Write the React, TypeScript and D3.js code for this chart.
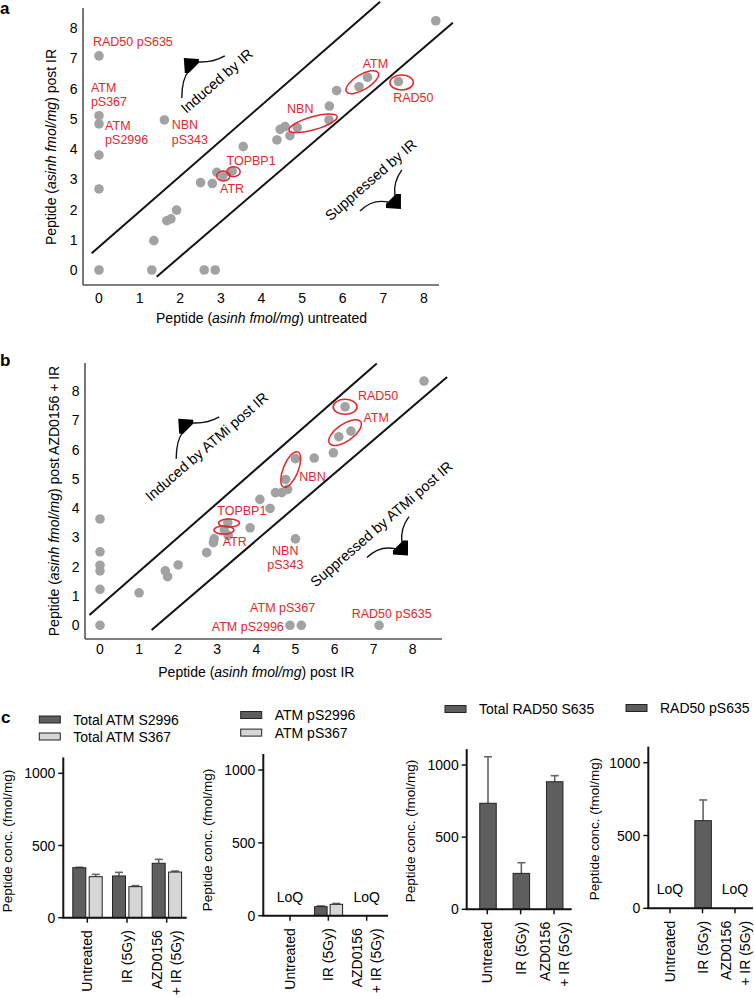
import React from 'react';
import * as d3 from 'd3';

// ---------- Panel a: untreated (x) vs post IR (y) ----------
const aX = [0, 0, 0, 0, 0, 0, 1.30, 1.35, 1.67, 1.77, 1.91, 1.61, 2.59, 2.86, 2.50, 2.79, 2.90, 3.05, 3.28, 3.55, 4.38, 4.46, 4.58, 4.70, 4.88, 5.66, 5.67, 5.85, 6.40, 6.61, 7.37, 8.29];
const aY = [7.08, 5.10, 4.83, 3.80, 2.68, 0, 0, 0.97, 1.63, 1.69, 1.98, 4.96, 0, 0, 2.89, 2.86, 3.23, 3.12, 3.27, 4.08, 4.30, 4.65, 4.74, 4.44, 4.71, 4.96, 5.42, 5.93, 6.06, 6.37, 6.23, 8.24];

// ---------- Panel b: post IR (x) vs post AZD0156 + IR (y) ----------
const bX = [0, 0, 0, 0, 0, 0, 1.0, 1.67, 1.73, 2.0, 2.73, 2.92, 2.90, 3.27, 3.18, 3.28, 3.84, 4.09, 4.35, 4.49, 4.65, 4.80, 4.75, 5.0, 5.48, 5.97, 6.11, 6.42, 6.27, 8.29, 5.0, 4.86, 5.15, 7.14];
const bY = [3.63, 2.51, 2.05, 1.86, 1.23, 0, 1.11, 1.86, 1.66, 2.06, 2.48, 2.95, 2.82, 3.50, 3.25, 3.07, 3.33, 4.30, 3.99, 4.53, 4.53, 4.64, 4.98, 5.69, 5.71, 5.89, 6.44, 6.63, 7.46, 8.34, 2.95, 0, 0, 0];

const scatterTicks = [0, 1, 2, 3, 4, 5, 6, 7, 8];

// threshold lines (data coordinates) [x1, y1, x2, y2]
const aLines = [[-0.18, 0.55, 6.92, 8.87], [1.42, -0.22, 8.71, 8.17]];
const bLines = [[-0.27, 0.35, 7.08, 8.94], [1.32, -0.16, 8.88, 8.48]];

// red labels: [text lines, x, y, anchor]
const aLabels: [string[], number, number, string][] = [
  [["RAD50 pS635"], -0.15, 7.54, 'start'],
  [["ATM", "pS367"], -0.2, 6.03, 'start'],
  [["ATM", "pS2996"], 0.15, 4.77, 'start'],
  [["NBN", "pS343"], 1.79, 4.79, 'start'],
  [["TOPBP1"], 3.14, 3.60, 'start'],
  [["ATR"], 2.98, 2.68, 'start'],
  [["NBN"], 4.63, 5.32, 'start'],
  [["ATM"], 6.49, 6.81, 'start'],
  [["RAD50"], 7.24, 5.70, 'start'],
];
const bLabels: [string[], number, number, string][] = [
  [["RAD50"], 6.60, 7.84, 'start'],
  [["ATM"], 6.74, 7.07, 'start'],
  [["NBN"], 5.10, 5.07, 'start'],
  [["TOPBP1"], 3.0, 3.90, 'start'],
  [["ATR"], 3.14, 2.83, 'start'],
  [["NBN", "pS343"], 4.74, 2.54, 'middle'],
  [["ATM pS367"], 3.84, 0.58, 'start'],
  [["ATM pS2996"], 2.86, -0.05, 'start'],
  [["RAD50 pS635"], 6.44, 0.38, 'start'],
];
// ellipses: [cx, cy, rx, ry, rotation]
const aEllipses = [
  [3.06, 3.11, 6.7, 5, 0],
  [3.31, 3.25, 6.7, 5, 0],
  [5.27, 4.85, 25, 6.5, -16],
  [6.48, 6.21, 18.5, 7.5, -31],
  [7.45, 6.20, 11.7, 7.5, 0],
];
const bEllipses = [
  [6.27, 7.46, 12, 7.5, 0],
  [6.27, 6.58, 19, 8.5, -35],
  [4.88, 5.32, 7.5, 19, 22],
  [3.30, 3.49, 10.5, 4, 0],
  [3.17, 3.25, 10, 4, 0],
];

// ---------- Panel c: bar charts ----------
const conditions = ["Untreated", "IR (5Gy)", "AZD0156\n+ IR (5Gy)"];
const c1Names = ["Total ATM S2996", "Total ATM S367"];
const c1Dark = [346, 289, 377];
const c1DarkErr = [3, 25, 27];
const c1Light = [284, 215, 316];
const c1LightErr = [16, 7, 7];
const c2Names = ["ATM pS2996", "ATM pS367"];
const c2Dark = [null, 62, null];
const c2DarkErr = [0, 5, 0];
const c2Light = [null, 78, null];
const c2LightErr = [0, 6, 0];
const c3Names = ["Total RAD50 S635"];
const c3Vals = [735, 249, 884];
const c3Err = [322, 74, 42];
const c4Names = ["RAD50 pS635"];
const c4Vals = [null, 602, null];
const c4Err = [0, 142, 0];
const barTicks = [0, 500, 1000];

const RED = '#e5272c';
const PT = '#a2a2a2';
const DARK = '#5e5e5e';
const LIGHT = '#d6d6d6';
const FONT = '"Liberation Sans", Arial, Helvetica, sans-serif';

function Arrow({ x, y, kind }: { x: number; y: number; kind: 'up' | 'down' }) {
  if (kind === 'up') {
    return (
      <g transform={`translate(${x},${y})`}>
        <path d="M34,-9 Q22,-2 6,-3" fill="none" stroke="#111" strokeWidth={1.4} />
        <path d="M-9,33 Q-9,14 -2,6" fill="none" stroke="#111" strokeWidth={1.4} />
        <path d="M-7,-7 L8,-6 L8,-2 L-2,8 L-6,8 Z" fill="#000" />
      </g>
    );
  }
  return (
    <g transform={`translate(${x},${y})`}>
      <path d="M8,-32 Q-1,-20 1,-6" fill="none" stroke="#111" strokeWidth={1.4} />
      <path d="M-34,9 Q-22,-3 -6,0" fill="none" stroke="#111" strokeWidth={1.4} />
      <path d="M7,-8 L7,7 L-8,6 L-8,2 L2,-8 Z" fill="#000" />
    </g>
  );
}

function Scatter(props: any) {
  const { xs, ys, xRange, yRange, axisX, axisY, axisTop, axisRight, lines, labels, ellipses, yTickX, xTickY,
    xTitle, xTitleY, yTitle, yTitleX, yTitleY, upText, upPos, upArrow, downText, downPos, downArrow } = props;
  const x = d3.scaleLinear().domain([0, 8]).range(xRange);
  const y = d3.scaleLinear().domain([0, 8]).range(yRange);
  const ang = -41;
  return (
    <g>
      <line x1={axisX} x2={axisX} y1={axisTop} y2={axisY} stroke="#555" strokeWidth={1.6} />
      <line x1={axisX} x2={axisRight} y1={axisY} y2={axisY} stroke="#555" strokeWidth={1.6} />
      {scatterTicks.map(t => (
        <text key={'y' + t} x={yTickX} y={y(t)} textAnchor="end" dominantBaseline="central" fontSize={14}>{t}</text>
      ))}
      {scatterTicks.map(t => (
        <text key={'x' + t} x={x(t)} y={xTickY} textAnchor="middle" dominantBaseline="central" fontSize={14}>{t}</text>
      ))}
      <text x={(xRange[0] + xRange[1]) / 2 + 0} y={xTitleY} textAnchor="middle" dominantBaseline="central" fontSize={14}>
        Peptide (<tspan fontStyle="italic">asinh fmol/mg</tspan>) {xTitle}
      </text>
      <text transform={`translate(${yTitleX},${yTitleY}) rotate(-90)`} textAnchor="middle" dominantBaseline="central" fontSize={14}>
        Peptide (<tspan fontStyle="italic">asinh fmol/mg</tspan>) {yTitle}
      </text>
      {lines.map((l: number[], i: number) => (
        <line key={i} x1={x(l[0])} y1={y(l[1])} x2={x(l[2])} y2={y(l[3])} stroke="#111" strokeWidth={2} />
      ))}
      {xs.map((v: number, i: number) => (
        <circle key={i} cx={x(v)} cy={y(ys[i])} r={4.8} fill={PT} />
      ))}
      {ellipses.map((e: number[], i: number) => (
        <ellipse key={i} transform={`translate(${x(e[0])},${y(e[1])}) rotate(${e[4]})`} rx={e[2]} ry={e[3]} fill="none" stroke={RED} strokeWidth={1.5} />
      ))}
      {labels.map((l: any, i: number) => (
        <g key={i}>
          {l[0].map((s: string, j: number) => (
            <text key={j} x={x(l[1])} y={y(l[2]) + j * 14.5} textAnchor={l[3]} dominantBaseline="central" fontSize={12.5} fill={RED}>{s}</text>
          ))}
        </g>
      ))}
      <text transform={`translate(${x(upPos[0])},${y(upPos[1])}) rotate(${ang})`} textAnchor="middle" dominantBaseline="central" fontSize={14.5}>{upText}</text>
      <text transform={`translate(${x(downPos[0])},${y(downPos[1])}) rotate(${ang})`} textAnchor="middle" dominantBaseline="central" fontSize={14.5}>{downText}</text>
      <Arrow x={x(upArrow[0])} y={y(upArrow[1])} kind="up" />
      <Arrow x={x(downArrow[0])} y={y(downArrow[1])} kind="down" />
    </g>
  );
}

function BarChart(props: any) {
  const { axisX, axisEnd, y0, y1000, catRange, barW, series, legend, titleX, titleY, loq } = props;
  const y = d3.scaleLinear().domain([0, 1000]).range([y0, y1000]);
  const x = d3.scalePoint<string>().domain(conditions).range(catRange);
  const top = y(1110);
  return (
    <g>
      {series.map((s: any, si: number) => s.vals.map((v: number | null, i: number) => {
        if (v == null) return null;
        const cx = (x(conditions[i]) as number) + s.off;
        const e = s.err[i];
        return (
          <g key={si + '-' + i}>
            {e > 0 && <line x1={cx} x2={cx} y1={y(v)} y2={y(v + e)} stroke="#666" strokeWidth={1.6} />}
            {e > 0 && <line x1={cx - 4} x2={cx + 4} y1={y(v + e)} y2={y(v + e)} stroke="#666" strokeWidth={1.6} />}
            <rect x={cx - barW / 2} y={y(v)} width={barW} height={y(0) - y(v)} fill={s.color} stroke="#222" strokeWidth={1} />
          </g>
        );
      }))}
      <line x1={axisX} x2={axisX} y1={top} y2={y0} stroke="#111" strokeWidth={2} />
      <line x1={axisX - 1} x2={axisEnd} y1={y0} y2={y0} stroke="#111" strokeWidth={2} />
      {barTicks.map(t => (
        <g key={t}>
          <line x1={axisX - 5} x2={axisX} y1={y(t)} y2={y(t)} stroke="#111" strokeWidth={1.5} />
          <text x={axisX - 8} y={y(t)} textAnchor="end" dominantBaseline="central" fontSize={14}>{t}</text>
        </g>
      ))}
      {conditions.map(c => {
        const cx = x(c) as number;
        const parts = c.split('\n');
        return (
          <g key={c}>
            <line x1={cx} x2={cx} y1={y0} y2={y0 + 5} stroke="#111" strokeWidth={1.5} />
            {parts.map((p, j) => (
              <text key={j} transform={`translate(${cx + (parts.length > 1 ? (j - 0.5) * 19 : 0)},${y0 + 12.5}) rotate(-90)`} textAnchor="end" dominantBaseline="central" fontSize={14}>{p}</text>
            ))}
          </g>
        );
      })}
      <text transform={`translate(${titleX},${titleY}) rotate(-90)`} textAnchor="middle" dominantBaseline="central" fontSize={13.5}>Peptide conc. (fmol/mg)</text>
      {legend.map((l: any, i: number) => (
        <g key={i}>
          <rect x={l.x} y={l.y - 3.5} width={21} height={7} fill={l.color} stroke="#222" strokeWidth={1} />
          <text x={l.x + 34} y={l.y} dominantBaseline="central" fontSize={14}>{l.name}</text>
        </g>
      ))}
      {loq.map((c: string) => (
        <text key={c} x={x(c)} y={y0 - 19} textAnchor="middle" dominantBaseline="central" fontSize={14}>LoQ</text>
      ))}
    </g>
  );
}

export default function App() {
  return (
    <svg width={754} height={998} style={{ position: 'absolute', left: 0, top: 0, background: '#fff' }} fontFamily={FONT}>
      <rect x={0} y={0} width={754} height={998} fill="#fff" />
      <text x={0} y={14} fontSize={17} fontWeight="bold">a</text>
      <text x={0} y={366} fontSize={17} fontWeight="bold">b</text>
      <text x={1} y={723} fontSize={17} fontWeight="bold">c</text>

      <Scatter xs={aX} ys={aY} xRange={[99, 424]} yRange={[270, 28]} axisX={83} axisY={285} axisTop={8} axisRight={439}
        lines={aLines} labels={aLabels} ellipses={aEllipses} yTickX={77.5} xTickY={297.5}
        xTitle="untreated" xTitleY={318} yTitle="post IR" yTitleX={51} yTitleY={147}
        upText="Induced by IR" upPos={[2.9, 6.25]} upArrow={[2.26, 6.78]}
        downText="Suppressed by IR" downPos={[6.69, 2.98]} downArrow={[7.26, 2.25]} />

      <Scatter xs={bX} ys={bY} xRange={[100, 412.7]} yRange={[625.3, 391]} axisX={85} axisY={639} axisTop={363} axisRight={442}
        lines={bLines} labels={bLabels} ellipses={bEllipses} yTickX={79.5} xTickY={649}
        xTitle="post IR" xTitleY={672} yTitle="post AZD0156 + IR" yTitleX={53.5} yTitleY={501}
        upText="Induced by ATMi post IR" upPos={[2.73, 6.10]} upArrow={[2.18, 6.81]}
        downText="Suppressed by ATMi post IR" downPos={[7.20, 3.46]} downArrow={[7.70, 2.62]} />

      <BarChart axisX={63.3} axisEnd={186.7} y0={917.7} y1000={773.3} catRange={[87.3, 166.7]} barW={13}
        series={[{ vals: c1Dark, err: c1DarkErr, color: DARK, off: -8 }, { vals: c1Light, err: c1LightErr, color: LIGHT, off: 8.4 }]}
        legend={[{ x: 39.3, y: 719.5, color: DARK, name: c1Names[0] }, { x: 39.3, y: 736.5, color: LIGHT, name: c1Names[1] }]}
        titleX={7.5} titleY={841} loq={[]} />
      <BarChart axisX={263.3} axisEnd={388} y0={915.7} y1000={770} catRange={[290, 366.7]} barW={12.5}
        series={[{ vals: c2Dark, err: c2DarkErr, color: DARK, off: -7.5 }, { vals: c2Light, err: c2LightErr, color: LIGHT, off: 8 }]}
        legend={[{ x: 240.7, y: 715, color: DARK, name: c2Names[0] }, { x: 240.7, y: 732.6, color: LIGHT, name: c2Names[1] }]}
        titleX={207.5} titleY={840} loq={[conditions[0], conditions[2]]} />
      <BarChart axisX={466.7} axisEnd={571.7} y0={909.3} y1000={765} catRange={[487.3, 554]} barW={16.5}
        series={[{ vals: c3Vals, err: c3Err, color: DARK, off: 0.7 }]}
        legend={[{ x: 445, y: 709, color: DARK, name: c3Names[0] }]}
        titleX={410.8} titleY={831} loq={[]} />
      <BarChart axisX={648.3} axisEnd={753} y0={908.3} y1000={762.7} catRange={[670, 735]} barW={16.5}
        series={[{ vals: c4Vals, err: c4Err, color: DARK, off: 0.6 }]}
        legend={[{ x: 626, y: 708, color: DARK, name: c4Names[0] }]}
        titleX={594} titleY={829} loq={[conditions[0], conditions[2]]} />
    </svg>
  );
}
